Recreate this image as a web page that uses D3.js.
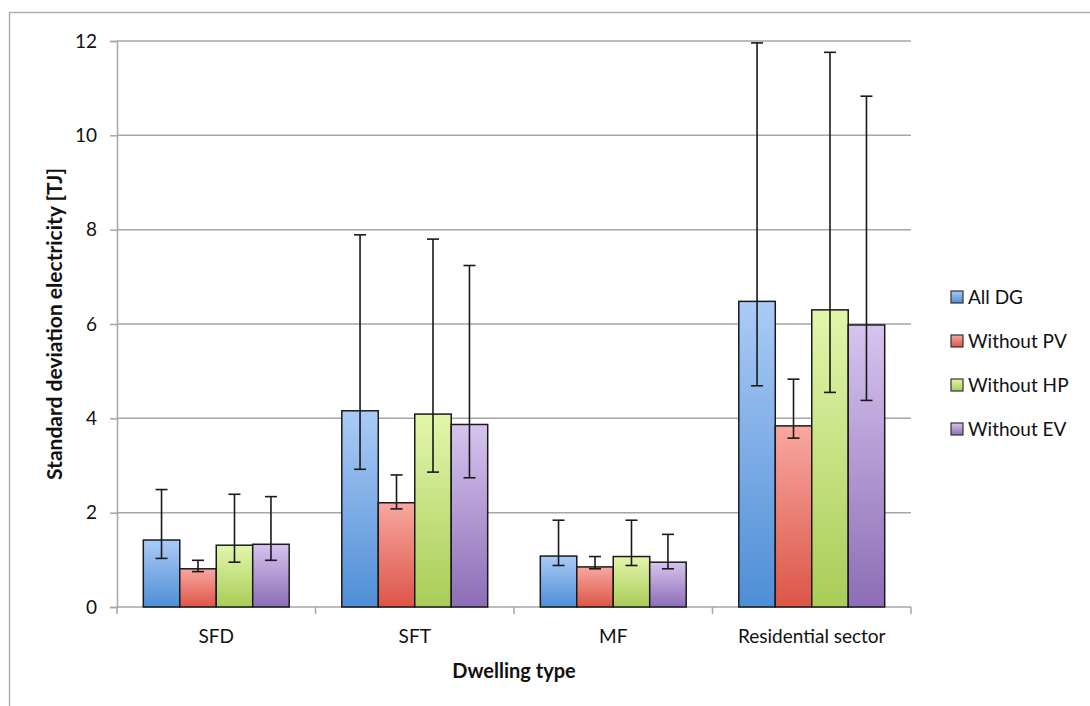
<!DOCTYPE html>
<html>
<head>
<meta charset="utf-8">
<script src="https://cdn.jsdelivr.net/npm/d3@7"></script>
<style>
  body { margin: 0; background: #fff; }
  svg text { font-family: Lato, "Open Sans", sans-serif; fill: #111; }
</style>
</head>
<body>
<svg id="chart"></svg>
<script>
// data
var categories = ["SFD", "SFT", "MF", "Residential sector"]
var series = ["All DG", "Without PV", "Without HP", "Without EV"]
var values = [
	[1.42, 0.81, 1.31, 1.33],
	[4.16, 2.21, 4.09, 3.87],
	[1.08, 0.85, 1.07, 0.95],
	[6.48, 3.84, 6.30, 5.98]
]
var errLow = [
	[1.03, 0.75, 0.95, 0.99],
	[2.92, 2.08, 2.86, 2.74],
	[0.88, 0.81, 0.88, 0.81],
	[4.69, 3.58, 4.55, 4.38]
]
var errHigh = [
	[2.49, 0.99, 2.39, 2.34],
	[7.89, 2.80, 7.80, 7.24],
	[1.84, 1.07, 1.84, 1.54],
	[11.96, 4.83, 11.76, 10.83]
]
var yTicks = [0, 2, 4, 6, 8, 10, 12]
var colorTop = ["#abcbf6", "#f8a7a0", "#e2f6ab", "#d6c4ee"]
var colorBottom = ["#4e8ed6", "#dc5547", "#a9cc58", "#8d6db6"]

var width = 1090
var height = 706
var margin = {top: 41, right: 179, bottom: 99, left: 117}

var svg = d3.select("#chart")
	.attr("width", width)
	.attr("height", height)

var defs = svg.append("defs")
series.forEach((s, i) => {
	var g = defs.append("linearGradient")
		.attr("id", "grad" + i)
		.attr("x1", 0).attr("y1", 0).attr("x2", 0).attr("y2", 1)
	g.append("stop").attr("offset", "0%").attr("stop-color", colorTop[i])
	g.append("stop").attr("offset", "100%").attr("stop-color", colorBottom[i])
})

// outer frame of the chart area
svg.append("path")
	.attr("d", `M9.5,${height} V12.5 H${width}`)
	.attr("fill", "none")
	.attr("stroke", "#b0b0b0")
	.attr("stroke-width", 1.5)

var x0 = d3.scaleBand()
	.domain(categories)
	.range([margin.left, width - margin.right])

var x1 = d3.scaleBand()
	.domain(series)
	.range([x0.bandwidth() * 0.1325, x0.bandwidth() * 0.8675])

var y = d3.scaleLinear()
	.domain([0, 12])
	.range([height - margin.bottom, margin.top])

// gridlines
svg.append("g")
	.selectAll("line")
	.data(yTicks.slice(1))
	.join("line")
	.attr("x1", margin.left)
	.attr("x2", width - margin.right)
	.attr("y1", d => y(d))
	.attr("y2", d => y(d))
	.attr("stroke", "#a6a6a6")
	.attr("stroke-width", 1.5)

var yAxis = g => g
	.attr("transform", `translate(${margin.left},0)`)
	.call(d3.axisLeft(y).tickValues(yTicks).tickSize(7).tickPadding(13))
	.call(g => g.selectAll("line, path").attr("stroke", "#a6a6a6").attr("stroke-width", 1.5))
	.call(g => g.selectAll("text").attr("font-size", 19).attr("fill", "#111"))

svg.append("g").call(yAxis)

// x axis: baseline plus ticks at category boundaries
var xAxisG = svg.append("g")
xAxisG.append("line")
	.attr("x1", margin.left).attr("x2", width - margin.right)
	.attr("y1", y(0)).attr("y2", y(0))
	.attr("stroke", "#a6a6a6").attr("stroke-width", 1.5)
var bounds = categories.map(c => x0(c)).concat([width - margin.right])
xAxisG.selectAll(".tk")
	.data(bounds)
	.join("line")
	.attr("x1", d => d).attr("x2", d => d)
	.attr("y1", y(0)).attr("y2", y(0) + 7)
	.attr("stroke", "#a6a6a6").attr("stroke-width", 1.5)
xAxisG.selectAll("text")
	.data(categories)
	.join("text")
	.attr("x", d => x0(d) + x0.bandwidth() / 2)
	.attr("y", y(0) + 36)
	.attr("text-anchor", "middle")
	.attr("font-size", 19)
	.text(d => d)

// bars
var groups = svg.append("g")
	.selectAll("g")
	.data(categories)
	.join("g")
	.attr("transform", d => `translate(${x0(d)},0)`)

groups.selectAll("rect")
	.data((d, ci) => values[ci].map((v, si) => ({v: v, s: series[si], si: si})))
	.join("rect")
	.attr("x", d => x1(d.s))
	.attr("y", d => y(d.v))
	.attr("width", x1.bandwidth())
	.attr("height", d => y(0) - y(d.v))
	.attr("fill", d => `url(#grad${d.si})`)
	.attr("stroke", "#1a1a1a")
	.attr("stroke-width", 1.5)

// error bars
var eb = groups.selectAll(".err")
	.data((d, ci) => series.map((s, si) => ({s: s, lo: errLow[ci][si], hi: errHigh[ci][si]})))
	.join("g")
	.attr("class", "err")
	.attr("stroke", "#1a1a1a")
	.attr("stroke-width", 1.6)

eb.append("line")
	.attr("x1", d => x1(d.s) + x1.bandwidth() / 2)
	.attr("x2", d => x1(d.s) + x1.bandwidth() / 2)
	.attr("y1", d => y(d.lo))
	.attr("y2", d => y(d.hi))
eb.append("line")
	.attr("x1", d => x1(d.s) + x1.bandwidth() / 2 - 6)
	.attr("x2", d => x1(d.s) + x1.bandwidth() / 2 + 6)
	.attr("y1", d => y(d.lo))
	.attr("y2", d => y(d.lo))
eb.append("line")
	.attr("x1", d => x1(d.s) + x1.bandwidth() / 2 - 6)
	.attr("x2", d => x1(d.s) + x1.bandwidth() / 2 + 6)
	.attr("y1", d => y(d.hi))
	.attr("y2", d => y(d.hi))

// axis titles
svg.append("text")
	.attr("transform", `translate(62,${(y(0) + y(12)) / 2}) rotate(-90)`)
	.attr("text-anchor", "middle")
	.attr("font-size", 21)
	.attr("font-weight", "bold")
	.text("Standard deviation electricity [TJ]")

svg.append("text")
	.attr("x", (margin.left + width - margin.right) / 2)
	.attr("y", y(0) + 71)
	.attr("text-anchor", "middle")
	.attr("font-size", 20)
	.attr("font-weight", "bold")
	.text("Dwelling type")

// legend
var legend = svg.append("g")
	.selectAll("g")
	.data(series)
	.join("g")
	.attr("transform", (d, i) => `translate(951,${291 + i * 44})`)

legend.append("rect")
	.attr("width", 12)
	.attr("height", 12)
	.attr("fill", (d, i) => `url(#grad${i})`)
	.attr("stroke", "#333")
	.attr("stroke-width", 1.2)

legend.append("text")
	.attr("x", 17)
	.attr("y", 13)
	.attr("font-size", 19)
	.text(d => d)
</script>
</body>
</html>
